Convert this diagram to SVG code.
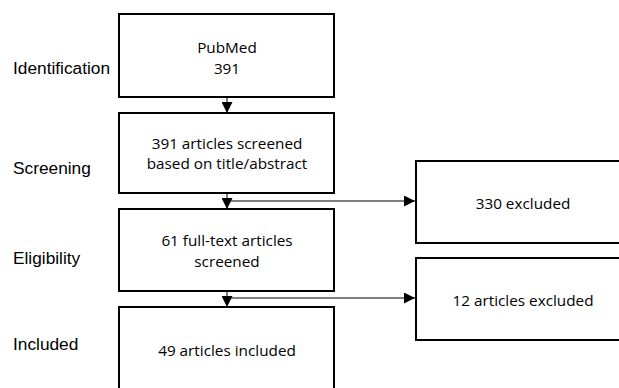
<svg xmlns="http://www.w3.org/2000/svg" width="619" height="388" viewBox="0 0 619 388">
<defs>
<style>
.box{fill:#fff;stroke:#000;stroke-width:2}
.t{font-family:"Open Sans","Liberation Sans",sans-serif;font-size:15.3px;fill:#000;text-anchor:middle}
.lbl{font-family:"Liberation Sans",Arial,sans-serif;font-size:17.3px;fill:#000}
.ln{stroke:#000;stroke-width:1;fill:none}
</style>
<marker id="ah" markerWidth="11" markerHeight="11" refX="11" refY="5.5" orient="auto" markerUnits="userSpaceOnUse">
<path d="M0,0 L11,5.5 L0,11 Z" fill="#000"/>
</marker>
</defs>
<rect width="619" height="388" fill="#fff"/>
<g id="labels">
<text class="lbl" x="13" y="74">Identification</text>
<text class="lbl" x="13" y="174">Screening</text>
<text class="lbl" x="13" y="264">Eligibility</text>
<text class="lbl" x="13" y="350">Included</text>
</g>
<g id="connectors">
<line class="ln" x1="227" y1="97" x2="227" y2="113" marker-end="url(#ah)"/>
<line class="ln" x1="227" y1="193" x2="227" y2="209" marker-end="url(#ah)"/>
<line class="ln" x1="227" y1="201" x2="415" y2="201" marker-end="url(#ah)"/>
<line class="ln" x1="227" y1="291" x2="227" y2="307" marker-end="url(#ah)"/>
<line class="ln" x1="227" y1="298" x2="415" y2="298" marker-end="url(#ah)"/>
</g>
<g id="n1">
<rect class="box" x="119" y="14" width="215" height="83"/>
<text class="t" x="227" y="53">PubMed</text>
<text class="t" x="227" y="74">391</text>
</g>
<g id="n2">
<rect class="box" x="119" y="113" width="215" height="80"/>
<text class="t" x="227" y="149">391 articles screened</text>
<text class="t" x="227" y="169">based on title/abstract</text>
</g>
<g id="n3">
<rect class="box" x="119" y="209" width="215" height="82"/>
<text class="t" x="227" y="246">61 full-text articles</text>
<text class="t" x="227" y="267">screened</text>
</g>
<g id="n4">
<rect class="box" x="119" y="307" width="215" height="90"/>
<text class="t" x="227" y="356">49 articles included</text>
</g>
<g id="n5">
<rect class="box" x="416" y="161" width="216" height="82"/>
<text class="t" x="523" y="209">330 excluded</text>
</g>
<g id="n6">
<rect class="box" x="416" y="258" width="216" height="82"/>
<text class="t" x="523" y="306">12 articles excluded</text>
</g>
</svg>
